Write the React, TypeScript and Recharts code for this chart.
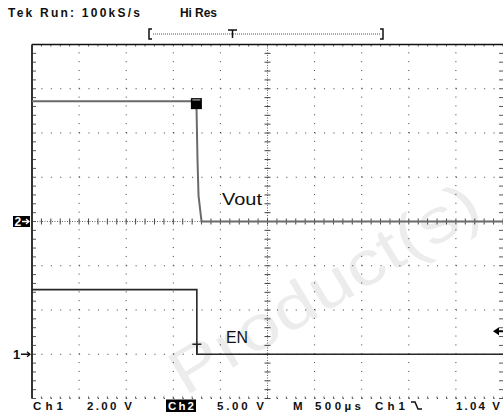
import React from 'react';
import { LineChart, Line, XAxis, YAxis, ReferenceLine, ReferenceDot, Customized } from 'recharts';

// ---- acquisition settings ----
const TIME_PER_DIV = 500; // µs
const T_MIN = -1750; // µs (trigger at 0)
const T_MAX = 3250;
const CH1_VOLTS_PER_DIV = 2;
const CH2_VOLTS_PER_DIV = 5;
const CH1_OFFSET_DIV = -3;
const CH2_OFFSET_DIV = 0;
const TRIGGER_LEVEL_V = 1.04;

// ---- traces (time µs, volts) ----
const voutTime = [-1750, -20, -3, 7, 18, 50, 3250];
const voutVolts = [13.6, 13.6, 12.6, 6.9, 2.9, 0, 0];
const enTime = [-1750, 0, 0, 3250];
const enVolts = [2.92, 2.92, 0, 0];

// ---- labels ----
const headerLeft = 'Tek Run: 100kS/s';
const headerMode = 'Hi Res';
const footerLabels = ['Ch1', '2.00 V', 'Ch2', '5.00 V', 'M', '500µs', 'Ch1', '1.04 V'];

const W = 503;
const H = 412;
const M = { top: 44.5, right: 0, bottom: 13.5, left: 32 };
const plotW = W - M.left - M.right;
const plotH = H - M.top - M.bottom;
const pxPerDivX = plotW / 10;
const pxPerDivY = plotH / 8;

const voutData = voutTime.map((t, i) => ({ t, v: voutVolts[i] / CH2_VOLTS_PER_DIV + CH2_OFFSET_DIV }));
const enData = enTime.map((t, i) => ({ t, v: enVolts[i] / CH1_VOLTS_PER_DIV + CH1_OFFSET_DIV }));

const majorX = Array.from({ length: 9 }, (_, i) => T_MIN + (i + 1) * TIME_PER_DIV);
const majorY = [-3, -2, -1, 1, 2, 3];
const minorX = Array.from({ length: 51 }, (_, i) => T_MIN + (i * TIME_PER_DIV) / 5);
const minorY = Array.from({ length: 41 }, (_, i) => -4 + i * 0.2);
const centerT = T_MIN + 5 * TIME_PER_DIV;

const tickDX = (px: number) => (px / pxPerDivX) * TIME_PER_DIV;
const tickDY = (px: number) => px / pxPerDivY;

const dotX = `1 ${plotW / 50 - 1}`;
const dotY = `1 ${plotH / 40 - 1}`;
const GRID = '#3a3a3a';
const FONT = '"Liberation Sans", Arial, sans-serif';
const FY = 409.5;
const FS = 11.5;

const Overlay = () => (
  <g fontFamily={FONT}>
    <text x={8} y={17} fontSize={12} fontWeight="bold" textLength={132} lengthAdjust="spacing" fill="#111">{headerLeft}</text>
    <text x={180} y={17} fontSize={12} fontWeight="bold" textLength={37} lengthAdjust="spacing" fill="#111">{headerMode}</text>
    {/* record bracket */}
    <path d="M152 29 H149 V39 H152" stroke="#111" strokeWidth={1.5} fill="none" />
    <path d="M380 29 H383 V39 H380" stroke="#111" strokeWidth={1.5} fill="none" />
    <line x1={153} y1={34} x2={380} y2={34} stroke="#555" strokeWidth={1} strokeDasharray="1 1" />
    <path d="M228 30 H237 M232.5 30 V38" stroke="#111" strokeWidth={1.5} fill="none" />
    {/* footer */}
    <text x={33} y={FY} fontSize={FS} fontWeight="bold" textLength={30} lengthAdjust="spacing" fill="#111">{footerLabels[0]}</text>
    <text x={87} y={FY} fontSize={FS} fontWeight="bold" textLength={45} lengthAdjust="spacing" fill="#111">{footerLabels[1]}</text>
    <rect x={166} y={399.5} width={30} height={12.5} fill="#000" />
    <text x={168} y={FY} fontSize={FS} fontWeight="bold" textLength={26} lengthAdjust="spacing" fill="#fff">{footerLabels[2]}</text>
    <text x={217} y={FY} fontSize={FS} fontWeight="bold" textLength={47} lengthAdjust="spacing" fill="#111">{footerLabels[3]}</text>
    <text x={293} y={FY} fontSize={FS} fontWeight="bold" textLength={10} lengthAdjust="spacing" fill="#111">{footerLabels[4]}</text>
    <text x={315} y={FY} fontSize={FS} fontWeight="bold" textLength={46} lengthAdjust="spacing" fill="#111">{footerLabels[5]}</text>
    <text x={375} y={FY} fontSize={FS} fontWeight="bold" textLength={30} lengthAdjust="spacing" fill="#111">{footerLabels[6]}</text>
    <path d="M411 402 H415 L418 409 H422" stroke="#111" strokeWidth={1.5} fill="none" />
    <text x={456} y={FY} fontSize={FS} fontWeight="bold" textLength={44} lengthAdjust="spacing" fill="#111">{footerLabels[7]}</text>
    {/* trace labels */}
    <text x={222} y={205} fontSize={17} textLength={40} lengthAdjust="spacingAndGlyphs" fill="#111">Vout</text>
    <text x={226} y={343} fontSize={17} textLength={22} lengthAdjust="spacingAndGlyphs" fill="#111">EN</text>
  </g>
);

const Watermark = () => (
  <text
    x={174}
    y={378}
    transform="rotate(-31 174 378)"
    fontFamily={FONT}
    fontSize={62}
    textLength={350}
    lengthAdjust="spacingAndGlyphs"
    dominantBaseline="central"
    fill="#ececec"
  >
    Product(s)
  </text>
);

export default function App() {
  return (
    <div style={{ position: 'absolute', left: 0, top: 0, width: W, height: H, background: '#fff' }}>
      <LineChart width={W} height={H} margin={M}>
        <XAxis type="number" dataKey="t" domain={[T_MIN, T_MAX]} allowDataOverflow hide />
        <YAxis type="number" dataKey="v" domain={[-4, 4]} allowDataOverflow hide />
        <Customized component={Watermark} />

        {majorX.filter((t) => t !== centerT).map((t) => (
          <ReferenceLine key={`vx${t}`} x={t} stroke={GRID} strokeWidth={1} strokeDasharray={dotY} />
        ))}
        {majorY.map((y) => (
          <ReferenceLine key={`hy${y}`} y={y} stroke={GRID} strokeWidth={1} strokeDasharray={dotX} />
        ))}
        <ReferenceLine x={centerT} stroke="#666" strokeWidth={1} strokeDasharray="1 1.5" />
        <ReferenceLine y={0} stroke="#666" strokeWidth={1} strokeDasharray="1 1.5" />
        <ReferenceLine y={-4} stroke={GRID} strokeWidth={1} strokeDasharray={dotX} ifOverflow="visible" />

        {minorX.map((t) => (
          <ReferenceLine key={`cx${t}`} segment={[{ x: t, y: -tickDY(3) }, { x: t, y: tickDY(3) }]} stroke="#444" ifOverflow="visible" />
        ))}
        {minorY.map((y) => (
          <ReferenceLine key={`cy${y}`} segment={[{ x: centerT - tickDX(3), y }, { x: centerT + tickDX(3), y }]} stroke="#444" ifOverflow="visible" />
        ))}
        {minorY.map((y) => (
          <ReferenceLine key={`ly${y}`} segment={[{ x: T_MIN, y }, { x: T_MIN + tickDX(4), y }]} stroke="#555" ifOverflow="visible" />
        ))}
        {minorY.map((y) => (
          <ReferenceLine key={`ry${y}`} segment={[{ x: T_MAX - tickDX(4), y }, { x: T_MAX, y }]} stroke="#555" ifOverflow="visible" />
        ))}
        {minorX.map((t) => (
          <ReferenceLine key={`tx${t}`} segment={[{ x: t, y: 4 }, { x: t, y: 4 - tickDY(2) }]} stroke="#555" ifOverflow="visible" />
        ))}
        {minorX.map((t) => (
          <ReferenceLine key={`bx${t}`} segment={[{ x: t, y: -4 }, { x: t, y: -4 + tickDY(2) }]} stroke="#555" ifOverflow="visible" />
        ))}

        <ReferenceLine y={4} stroke="#111" strokeWidth={1.5} ifOverflow="visible" />
        <ReferenceLine x={T_MIN} stroke="#333" strokeWidth={2} ifOverflow="visible" />

        <Line data={voutData} dataKey="v" type="linear" stroke="#6a6a6a" strokeWidth={2} dot={false} isAnimationActive={false} />
        <Line data={enData} dataKey="v" type="linear" stroke="#262626" strokeWidth={1.6} dot={false} isAnimationActive={false} />

        {/* cursor box on Vout */}
        <ReferenceDot
          x={-5}
          y={voutVolts[0] / CH2_VOLTS_PER_DIV + CH2_OFFSET_DIV}
          ifOverflow="visible"
          shape={(p: any) => (
            <g>
              <rect x={p.cx - 5.5} y={p.cy - 3} width={11} height={11} fill="#000" />
              <rect x={p.cx - 4} y={p.cy - 2} width={8} height={1.5} fill="#888" />
            </g>
          )}
        />
        {/* trigger T on EN */}
        <ReferenceDot
          x={0}
          y={CH1_OFFSET_DIV}
          ifOverflow="visible"
          shape={(p: any) => (
            <path d={`M${p.cx - 4.5} ${p.cy - 10} H${p.cx + 4.5} M${p.cx} ${p.cy - 10} V${p.cy - 1}`} stroke="#222" strokeWidth={1.5} fill="none" />
          )}
        />
        {/* ground markers */}
        <ReferenceDot
          x={T_MIN}
          y={CH2_OFFSET_DIV}
          ifOverflow="visible"
          shape={(p: any) => (
            <g>
              <rect x={p.cx - 19} y={p.cy - 5.5} width={17} height={11} fill="#000" />
              <text x={p.cx - 17.5} y={p.cy + 4.5} fontSize={12} fontWeight="bold" fontFamily={FONT} fill="#fff">2</text>
              <path d={`M${p.cx - 10} ${p.cy} H${p.cx - 3} M${p.cx - 6} ${p.cy - 2.5} L${p.cx - 3} ${p.cy} L${p.cx - 6} ${p.cy + 2.5}`} stroke="#fff" strokeWidth={1.3} fill="none" />
            </g>
          )}
        />
        <ReferenceDot
          x={T_MIN}
          y={CH1_OFFSET_DIV}
          ifOverflow="visible"
          shape={(p: any) => (
            <g>
              <text x={p.cx - 19} y={p.cy + 5} fontSize={13} fontWeight="bold" fontFamily={FONT} fill="#111">1</text>
              <path d={`M${p.cx - 11} ${p.cy} H${p.cx - 2} M${p.cx - 5} ${p.cy - 2.5} L${p.cx - 2} ${p.cy} L${p.cx - 5} ${p.cy + 2.5}`} stroke="#111" strokeWidth={1.3} fill="none" />
            </g>
          )}
        />
        {/* trigger level arrow */}
        <ReferenceDot
          x={T_MAX}
          y={TRIGGER_LEVEL_V / CH1_VOLTS_PER_DIV + CH1_OFFSET_DIV}
          ifOverflow="visible"
          shape={(p: any) => (
            <g>
              <path d={`M${p.cx - 10} ${p.cy} L${p.cx - 4} ${p.cy - 4} L${p.cx - 4} ${p.cy + 4} Z`} fill="#000" />
              <path d={`M${p.cx - 5} ${p.cy} H${p.cx}`} stroke="#000" strokeWidth={2} />
            </g>
          )}
        />
        <Customized component={Overlay} />
      </LineChart>
    </div>
  );
}
